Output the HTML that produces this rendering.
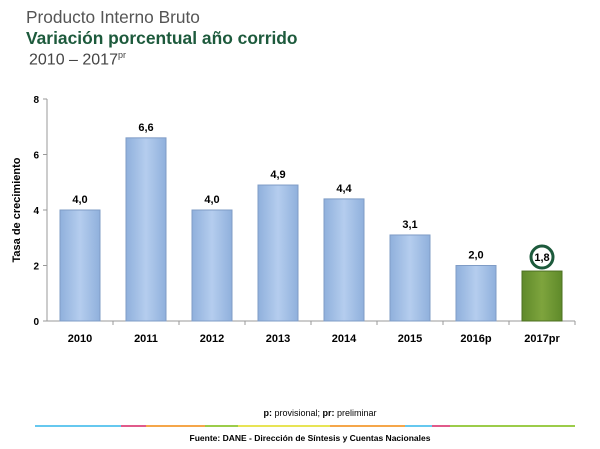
<!DOCTYPE html>
<html><head><meta charset="utf-8"><style>
body{margin:0;width:600px;height:449px;background:#fff;font-family:"Liberation Sans",sans-serif;overflow:hidden;position:relative}
.t{position:absolute;white-space:nowrap}
</style></head><body>
<div class="t" style="left:26px;top:7px;font-size:17.3px;color:#555">Producto Interno Bruto</div>
<div class="t" style="left:26px;top:28px;font-size:17.4px;font-weight:bold;color:#1d5a3c">Variación porcentual año corrido</div>
<div class="t" style="left:29px;top:50px;font-size:16px;color:#444">2010 – 2017<sup style="font-size:9px">pr</sup></div>
<svg id="chart" width="600" height="449" style="position:absolute;left:0;top:0">
<defs>
<linearGradient id="gb" x1="0" x2="1"><stop offset="0" stop-color="#8fb0dc"/><stop offset="0.5" stop-color="#b5cdee"/><stop offset="1" stop-color="#8fb0dc"/></linearGradient>
<linearGradient id="gg" x1="0" x2="1"><stop offset="0" stop-color="#5f8a2a"/><stop offset="0.5" stop-color="#7ea43d"/><stop offset="1" stop-color="#5f8a2a"/></linearGradient>
</defs>
<g id="g"></g>
<text transform="translate(20,210) rotate(-90)" text-anchor="middle" font-size="11" font-weight="bold" fill="#000">Tasa de crecimiento</text>
<text x="320" y="416" text-anchor="middle" font-size="9" fill="#000"><tspan font-weight="bold">p:</tspan> provisional; <tspan font-weight="bold">pr:</tspan> preliminar</text>
<g>
<rect x="35" y="425" width="86" height="2" fill="#66c8ef"/>
<rect x="121" y="425" width="25" height="2" fill="#e05a8a"/>
<rect x="146" y="425" width="59" height="2" fill="#f5a64a"/>
<rect x="205" y="425" width="33" height="2" fill="#9ccc4a"/>
<rect x="238" y="425" width="92" height="2" fill="#e8e455"/>
<rect x="330" y="425" width="75" height="2" fill="#f5a64a"/>
<rect x="405" y="425" width="27" height="2" fill="#66c8ef"/>
<rect x="432" y="425" width="18" height="2" fill="#e05a8a"/>
<rect x="450" y="425" width="125" height="2" fill="#9ccc4a"/>
</g>
<text x="310" y="441" text-anchor="middle" font-size="8.5" font-weight="bold" fill="#000">Fuente: DANE - Dirección de Síntesis y Cuentas Nacionales</text>
</svg>
<script>
const categories=["2010","2011","2012","2013","2014","2015","2016p","2017pr"];
const values=[4.0,6.6,4.0,4.9,4.4,3.1,2.0,1.8];
const labels=["4,0","6,6","4,0","4,9","4,4","3,1","2,0","1,8"];
const yTicks=[0,2,4,6,8];
const NS="http://www.w3.org/2000/svg";
const g=document.getElementById('g');
const x0=47,x1=575,y0=321,y8=99;
const yS=v=>y0-(v/8)*(y0-y8);
const step=(x1-x0)/categories.length;
const xC=i=>x0+step*(i+0.5);
function mk(t,a){const e=document.createElementNS(NS,t);for(const k in a)e.setAttribute(k,a[k]);g.appendChild(e);return e;}
let ax=mk('line',{x1:x0,x2:x0,y1:y8,y2:y0,stroke:'#999'});


let bx=mk('line',{x1:x0,x2:x1,y1:y0,y2:y0,stroke:'#999'});


yTicks.forEach(v=>{
  mk('line',{x1:x0-4,x2:x0,y1:yS(v),y2:yS(v),stroke:'#999'});
  const t=mk('text',{x:x0-8,y:yS(v)+4,'text-anchor':'end','font-size':10,'font-weight':'bold'});
  t.textContent=v;
  
  
});
categories.forEach((c,i)=>{
  mk('line',{x1:x0+step*(i+1),x2:x0+step*(i+1),y1:y0,y2:y0+4,stroke:'#999'});
  const last=i===categories.length-1;
  const w=40,cx=xC(i),y=yS(values[i]);
  const r=mk('rect',{x:cx-w/2,y:y,width:w,height:y0-y,fill:last?'url(#gg)':'url(#gb)',stroke:last?'#4d7022':'#7f9cc6','stroke-width':1});
  
  
  if(last){const ci=mk('circle',{cx:cx,cy:y-14,r:11,fill:'#fff',stroke:'#1d5a3c','stroke-width':3});
    
    }
  const t=mk('text',{x:cx,y:last?y-10:y-7,'text-anchor':'middle','font-size':11,'font-weight':'bold'});
  t.textContent=labels[i];
  
  
  const xl=mk('text',{x:cx,y:342,'text-anchor':'middle','font-size':11,'font-weight':'bold'});
  xl.textContent=c;
  
  
});
</script>
</body></html>
